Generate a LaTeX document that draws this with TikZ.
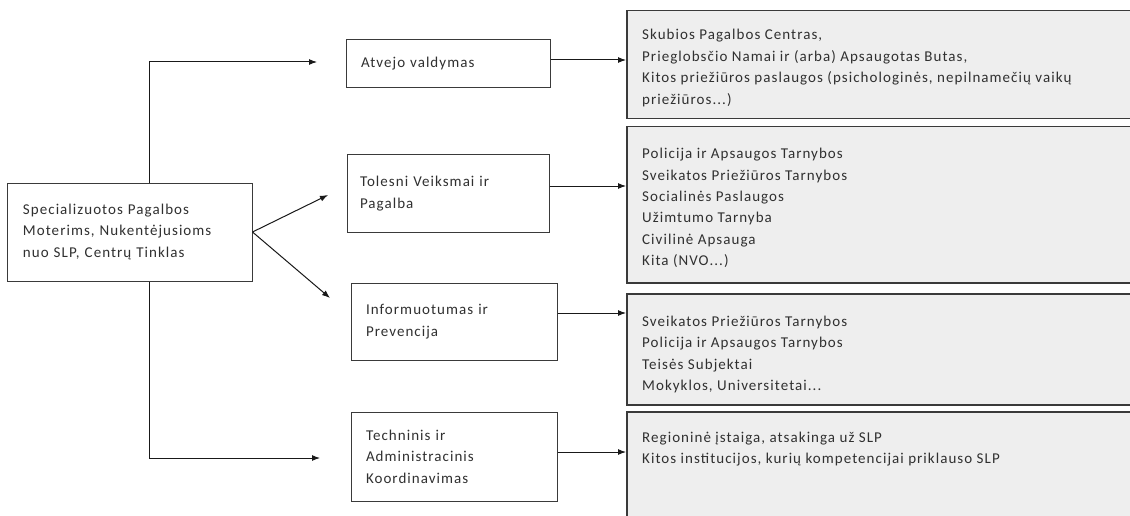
\documentclass[tikz,border=0pt]{standalone}
\usepackage{fontspec}
\setmainfont{Carlito}[LetterSpace=7]
\usetikzlibrary{arrows.meta,calc}
\definecolor{txt}{HTML}{303030}
\definecolor{edge}{HTML}{3A3A3A}
\definecolor{rfill}{HTML}{EEEEEE}
\begin{document}
\begin{tikzpicture}[x=1pt,y=-1pt,
  every node/.style={font=\fontsize{15}{21.4}\selectfont, text=txt},
  lbox/.style={draw=edge, line width=1pt, fill=white, align=left, inner ysep=0pt, anchor=center},
  rbox/.style={draw=edge, line width=1.5pt, fill=rfill, inner sep=0pt, anchor=north west},
  rtext/.style={align=left, inner sep=0pt, anchor=west},
  arr/.style={draw=black!90, line width=1pt, -{Latex[length=8pt,width=6pt]}}]
\clip (0,0) rectangle (1130,516);
\fill[white] (0,0) rectangle (1130,516);
% left column
\node[lbox, minimum width=245, minimum height=98, text width=213, inner xsep=16pt] (main) at (129.5,232)
  {Specializuotos Pagalbos\\Moterims, Nukentėjusioms\\nuo SLP, Centrų Tinklas};
% middle column
\node[lbox, minimum width=204, minimum height=48, text width=174, inner xsep=15pt] (atv) at (448,64) {Atvejo valdymas};
\node[lbox, minimum width=202, minimum height=77, text width=176, inner xsep=13pt] (tol) at (448,193.5) {Tolesni Veiksmai ir\\Pagalba};
\node[lbox, minimum width=206, minimum height=77, text width=176, inner xsep=15pt] (inf) at (454,321.5) {Informuotumas ir\\Prevencija};
\node[lbox, minimum width=206, minimum height=89, text width=176, inner xsep=15pt] (tec) at (454,456.5) {Techninis ir\\Administracinis\\Koordinavimas};
% right column
\node[rbox, minimum width=530, minimum height=108] (r1) at (626,10) {};
\node[rbox, minimum width=530, minimum height=156] (r2) at (626,126) {};
\node[rbox, minimum width=530, minimum height=111] (r3) at (626,293) {};
\node[rbox, minimum width=530, minimum height=140] (r4) at (626,411) {};
\node[rtext] (r1t) at (642,68) {Skubios Pagalbos Centras,\\Prieglobsčio Namai ir (arba) Apsaugotas Butas,\\Kitos priežiūros paslaugos (psichologinės, nepilnamečių vaikų\\priežiūros...)};
\node[rtext] (r2t) at (642,208) {Policija ir Apsaugos Tarnybos\\Sveikatos Priežiūros Tarnybos\\Socialinės Paslaugos\\Užimtumo Tarnyba\\Civilinė Apsauga\\Kita (NVO...)};
\node[rtext] (r3t) at (642,354.5) {Sveikatos Priežiūros Tarnybos\\Policija ir Apsaugos Tarnybos\\Teisės Subjektai\\Mokyklos, Universitetai...};
\node[rtext] (r4t) at (642,449) {Regioninė įstaiga, atsakinga už SLP\\Kitos institucijos, kurių kompetencijai priklauso SLP};
% free ends of connectors
\coordinate (c1) at (317,62);
\coordinate (c2) at (328,195);
\coordinate (c3) at (330,298);
\coordinate (c4) at (320,458);
\draw[arr] ([xshift=19.5pt]main.north) |- (c1);
\draw[arr] ([xshift=19.5pt]main.south) |- (c4);
\draw[arr] (main.east) -- (c2);
\draw[arr] (main.east) -- (c3);
\draw[arr] (atv.east |- 0,60) -- (r1.west |- 0,60);
\draw[arr] (tol.east |- 0,186) -- (r2.west |- 0,186);
\draw[arr] (inf.east |- 0,313) -- (r3.west |- 0,313);
\draw[arr] (tec.east |- 0,452) -- (r4.west |- 0,452);
\end{tikzpicture}
\end{document}
